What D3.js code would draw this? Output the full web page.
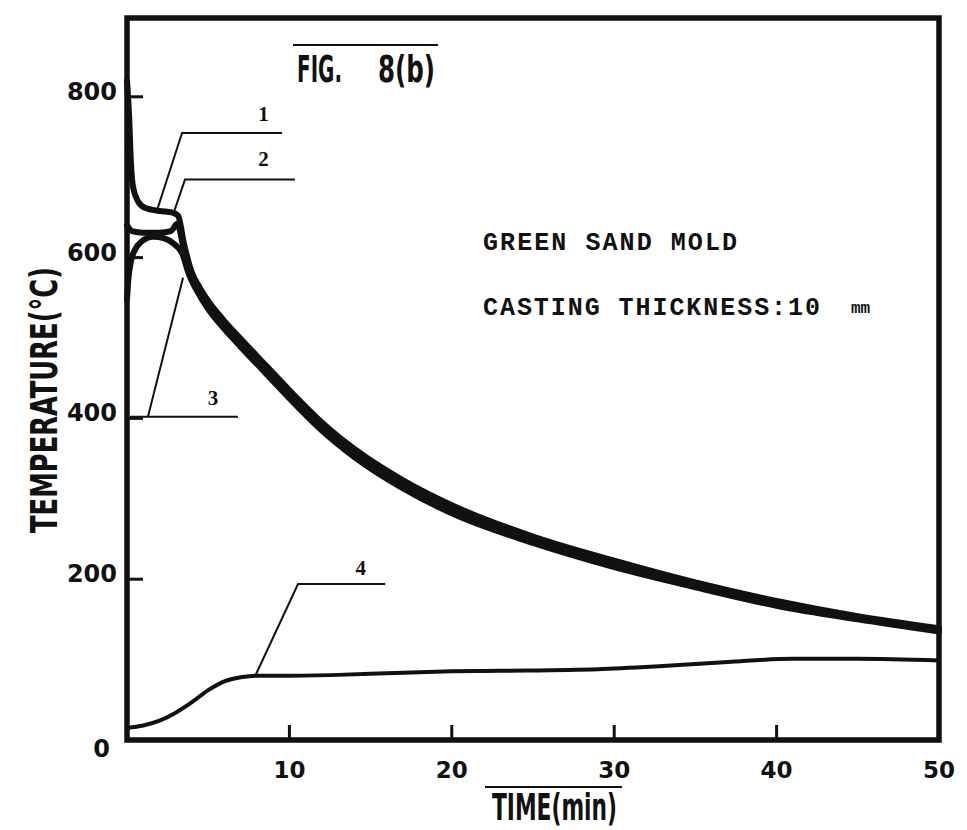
<!DOCTYPE html>
<html>
<head>
<meta charset="utf-8">
<script src="https://cdn.jsdelivr.net/npm/d3@7"></script>
<style>
  body { margin: 0; background: #fff; }
</style>
</head>
<body>
<div id="chart"></div>
<script>
/* data */
var xTicks = [10, 20, 30, 40];
var xTickLabels = [10, 20, 30, 40, 50];
var yTicks = [200, 400, 600, 800];
var yTickLabels = [0, 200, 400, 600, 800];

// curve 1 (upper), 2, 3 (lower) merge into one thick band after ~3 min
var time1 = [0, 0.12, 0.25, 0.37, 0.68, 1.1, 2, 2.8, 3.15, 3.5, 4, 4.5, 5, 6, 7, 8.5, 10, 12, 14, 17, 20, 25, 30, 35, 40, 45, 50];
var temp1 = [820, 780, 715, 688, 670, 662, 658, 656, 652, 618, 581, 562, 546, 521, 499, 467, 435, 395, 362, 323, 292, 253, 223, 196, 173, 154, 139];

var time2 = [0, 0.3, 1, 2, 2.7, 3.1, 3.5, 4, 4.5, 5, 6, 7, 8.5, 10, 12, 14, 17, 20, 25, 30, 35, 40, 45, 50];
var temp2 = [640, 633, 631, 631, 633, 642, 610, 575, 557, 541, 516, 494, 462, 430, 390, 357, 318, 287, 249, 219, 193, 170, 152, 137];

var time3 = [0, 0.08, 0.25, 0.5, 0.9, 1.6, 2.3, 2.9, 3.4, 3.8, 4.5, 5, 6, 7, 8.5, 10, 12, 14, 17, 20, 25, 30, 35, 40, 45, 50];
var temp3 = [548, 572, 596, 610, 620, 626, 624, 617, 605, 580, 552, 536, 511, 489, 457, 425, 385, 352, 313, 282, 245, 215, 190, 167, 150, 135];

// curve 4 (mold)
var time4 = [0, 1, 2, 3, 4, 5, 6, 7, 8, 10, 13, 16, 19, 23, 29, 33, 37, 41, 45, 50];
var temp4 = [15, 18, 24, 34, 47, 62, 73, 78, 80, 80, 81, 83, 85, 86, 88, 92, 97, 101, 101, 99];

// leader lines for the curve numbers: [time, temp] points, label position
var leaders = [
  { name: "1", pts: [[1.85, 659], [3.39, 755], [9.54, 755]], at: [8.4, 770] },
  { name: "2", pts: [[2.83, 653], [3.57, 697], [10.34, 697]], at: [8.4, 714] },
  { name: "3", pts: [[3.45, 575], [1.29, 402], [0.18, 402], [6.83, 402]], at: [5.3, 417] },
  { name: "4", pts: [[7.88, 79], [10.53, 194], [15.9, 194]], at: [14.4, 205] }
];

/* d3 boilerplate */
var W = 967, H = 830;
var svg = d3.select("#chart")
            .append("svg")
            .attr("width", W)
            .attr("height", H);

var x = d3.scaleLinear().domain([0, 50]).range([127, 939]);
var y = d3.scaleLinear().domain([0, 898]).range([740, 18]);

var ink = "#111";

/* frame */
svg.append("rect")
   .attr("x", x(0))
   .attr("y", y(898))
   .attr("width", x(50) - x(0))
   .attr("height", y(0) - y(898))
   .style("fill", "none")
   .style("stroke", ink)
   .style("stroke-width", 5.5);

/* ticks, pointing inward */
svg.selectAll()
   .data(xTicks)
   .enter()
   .append("line")
   .attr("x1", function (d) { return x(d); })
   .attr("x2", function (d) { return x(d); })
   .attr("y1", y(0))
   .attr("y2", y(0) - 15)
   .style("stroke", ink)
   .style("stroke-width", 3);

svg.selectAll()
   .data(yTicks)
   .enter()
   .append("line")
   .attr("x1", x(0))
   .attr("x2", x(0) + 16)
   .attr("y1", function (d) { return y(d); })
   .attr("y2", function (d) { return y(d); })
   .style("stroke", ink)
   .style("stroke-width", 3);

/* tick labels */
svg.selectAll()
   .data(xTickLabels)
   .enter()
   .append("text")
   .attr("x", function (d) { return x(d); })
   .attr("y", y(0) + 38)
   .text(function (d) { return d; })
   .style("text-anchor", "middle")
   .style("font-family", "'DejaVu Sans', sans-serif")
   .style("font-weight", "bold")
   .style("font-size", "23px")
   .style("fill", ink);

svg.selectAll()
   .data(yTickLabels)
   .enter()
   .append("text")
   .attr("x", function (d) { return d == 0 ? x(0) - 17 : x(0) - 10; })
   .attr("y", function (d) { return d == 0 ? y(d) + 17 : y(d) + 3; })
   .text(function (d) { return d; })
   .style("text-anchor", "end")
   .style("font-family", "'DejaVu Sans', sans-serif")
   .style("font-weight", "bold")
   .style("font-size", "24px")
   .style("fill", ink);

/* axis titles and figure title, condensed lettering */
function condensed(txt, x0, y0, len, size) {
  return svg.append("text")
    .attr("x", x0)
    .attr("y", y0)
    .attr("textLength", len)
    .attr("lengthAdjust", "spacingAndGlyphs")
    .text(txt)
    .style("font-family", "'DejaVu Sans Condensed', 'DejaVu Sans', sans-serif")
    .style("font-weight", "bold")
    .style("font-size", size + "px")
    .style("fill", ink);
}

condensed("FIG.", 297, 82, 45, 38);
condensed("8(b)", 378, 82, 57, 38);
svg.append("line")
   .attr("x1", 293).attr("x2", 438)
   .attr("y1", 45).attr("y2", 45)
   .style("stroke", ink).style("stroke-width", 2);

condensed("TIME(min)", 492, 820, 125, 38);
svg.append("line")
   .attr("x1", 485).attr("x2", 622)
   .attr("y1", 787).attr("y2", 787)
   .style("stroke", ink).style("stroke-width", 2);

condensed("TEMPERATURE(°C)", 0, 0, 266, 37)
   .attr("transform", "translate(57,533) rotate(-90)");

/* typewriter notes */
svg.append("text")
   .attr("x", 483)
   .attr("y", 250)
   .attr("textLength", 254)
   .attr("lengthAdjust", "spacing")
   .text("GREEN SAND MOLD")
   .style("font-family", "'Liberation Mono', monospace")
   .style("font-weight", "bold")
   .style("font-size", "25px")
   .style("fill", ink);

svg.append("text")
   .attr("x", 483)
   .attr("y", 315)
   .attr("textLength", 337)
   .attr("lengthAdjust", "spacing")
   .text("CASTING THICKNESS:10")
   .style("font-family", "'Liberation Mono', monospace")
   .style("font-weight", "bold")
   .style("font-size", "25px")
   .style("fill", ink);

svg.append("text")
   .attr("x", 851)
   .attr("y", 313)
   .text("mm")
   .style("font-family", "'Liberation Mono', monospace")
   .style("font-weight", "bold")
   .style("font-size", "16px")
   .style("fill", ink);

/* curves */
var line = d3.line()
             .x(function (d) { return x(d[0]); })
             .y(function (d) { return y(d[1]); })
             .curve(d3.curveMonotoneX);

function pairs(t, v) { return t.map(function (d, i) { return [d, v[i]]; }); }

var curves = [
  { pts: pairs(time1, temp1), w: 6 },
  { pts: pairs(time2, temp2), w: 6 },
  { pts: pairs(time3, temp3), w: 6 },
  { pts: pairs(time4, temp4), w: 4 }
];

svg.selectAll()
   .data(curves)
   .enter()
   .append("path")
   .attr("d", function (d) { return line(d.pts); })
   .style("fill", "none")
   .style("stroke", ink)
   .style("stroke-width", function (d) { return d.w; })
   .style("stroke-linejoin", "round")
   .style("stroke-linecap", "round");

/* leader lines with curve numbers */
var straight = d3.line()
                 .x(function (d) { return x(d[0]); })
                 .y(function (d) { return y(d[1]); });

svg.selectAll()
   .data(leaders)
   .enter()
   .append("path")
   .attr("d", function (d) { return straight(d.pts); })
   .style("fill", "none")
   .style("stroke", ink)
   .style("stroke-width", 2);

svg.selectAll()
   .data(leaders)
   .enter()
   .append("text")
   .attr("x", function (d) { return x(d.at[0]); })
   .attr("y", function (d) { return y(d.at[1]); })
   .text(function (d) { return d.name; })
   .style("text-anchor", "middle")
   .style("font-family", "'Liberation Serif', serif")
   .style("font-weight", "bold")
   .style("font-size", "21px")
   .style("fill", ink);
</script>
</body>
</html>
